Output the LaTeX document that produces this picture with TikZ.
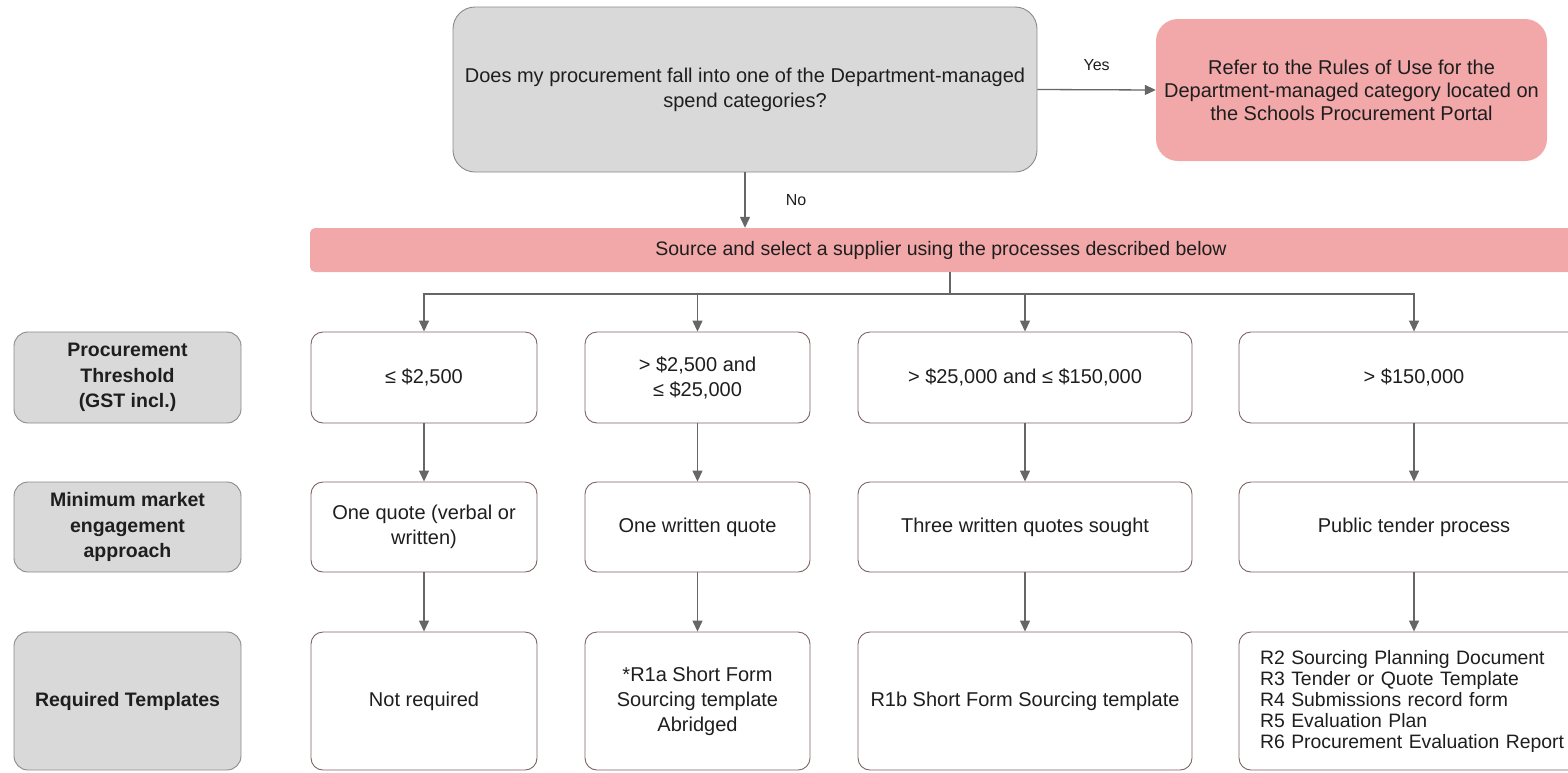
\documentclass[tikz,border=0pt]{standalone}
\usepackage{fontspec}
\setmainfont{Liberation Sans}
\usetikzlibrary{arrows.meta}
\definecolor{arrowgray}{HTML}{666666}
\definecolor{boxedge}{HTML}{7E6262}
\definecolor{grayfill}{HTML}{D9D9D9}
\definecolor{grayedge}{HTML}{8A8A8A}
\definecolor{pinkfill}{HTML}{F2A7A9}
\definecolor{txt}{HTML}{1E1E1E}
\tikzset{
  arr/.style={draw=arrowgray, line width=1.3pt, -{Triangle[length=11pt,width=10pt]}},
  ln/.style={draw=arrowgray, line width=1.3pt},
  wbox/.style={draw=boxedge, line width=0.9pt, fill=white, rounded corners=12pt,
    align=center, inner sep=0pt, text=txt, font=\fontsize{20}{25}\selectfont},
  lbox/.style={draw=grayedge, line width=0.9pt, fill=grayfill, rounded corners=14pt,
    align=center, inner sep=0pt, text=txt, minimum width=227pt,
    font=\fontsize{19.5}{25.5}\selectfont\bfseries},
  qbox/.style={draw=grayedge, line width=0.9pt, fill=grayfill, rounded corners=22pt,
    align=center, inner sep=0pt, text=txt, font=\fontsize{20}{25}\selectfont},
  pbox/.style={fill=pinkfill, rounded corners=22pt, align=center, inner sep=0pt,
    text=txt, font=\fontsize{20}{23}\selectfont},
  lab/.style={text=txt, inner sep=0pt, font=\fontsize{16}{18}\selectfont},
  r1/.style={minimum height=91pt},
  r2/.style={minimum height=90pt},
  r3/.style={minimum height=138pt},
}
\begin{document}
\begin{tikzpicture}[x=1pt,y=-1pt]
\useasboundingbox (0,0) rectangle (1568,772);
\clip (0,0) rectangle (1568,772);

% top decision
\node[qbox, minimum width=584pt, minimum height=165pt] (q) at (745,89.5)
  {Does my procurement fall into one of the Department-managed\\spend categories?};
\node[pbox, minimum width=391pt, minimum height=142pt] (ref) at (1351.5,90)
  {Refer to the Rules of Use for the\\Department-managed category located on\\the Schools Procurement Portal};
\node[pbox, rounded corners=5pt, minimum width=1262pt, minimum height=44pt,
  font=\fontsize{19.5}{23}\selectfont] (bar) at (941,250)
  {Source and select a supplier using the processes described below};

\draw[arr] (q.east) -- (ref.west) node[lab, pos=0.5, yshift=25pt] (yes) {Yes};
\draw[arr] (q.south) -- (q.south |- bar.north) node[lab, pos=0.5, xshift=51pt] (no) {No};

% row labels
\node[lbox, r1] (l1) at (127.5,377.5) {Procurement\\Threshold\\(GST incl.)};
\node[lbox, r2] (l2) at (127.5,527) {Minimum market\\engagement\\approach};
\node[lbox, r3] (l3) at (127.5,701) {Required Templates};

% row 1
\node[wbox, r1, minimum width=226pt] (t1) at (424,377.5) {≤ \$2,500};
\node[wbox, r1, minimum width=225pt] (t2) at (697.5,377.5) {> \$2,500 and\\≤ \$25,000};
\node[wbox, r1, minimum width=334pt] (t3) at (1025,377.5) {> \$25,000 and ≤ \$150,000};
\node[wbox, r1, minimum width=350pt] (t4) at (1414,377.5) {> \$150,000};

% row 2
\node[wbox, r2, minimum width=226pt] (m1) at (424,527) {One quote (verbal or\\written)};
\node[wbox, r2, minimum width=225pt] (m2) at (697.5,527) {One written quote};
\node[wbox, r2, minimum width=334pt] (m3) at (1025,527) {Three written quotes sought};
\node[wbox, r2, minimum width=350pt] (m4) at (1414,527) {Public tender process};

% row 3
\node[wbox, r3, minimum width=226pt] (b1) at (424,701) {Not required};
\node[wbox, r3, minimum width=225pt] (b2) at (697.5,701) {*R1a Short Form\\Sourcing template\\Abridged};
\node[wbox, r3, minimum width=334pt] (b3) at (1025,701) {R1b Short Form Sourcing template};
\node[wbox, r3, align=left, text width=330pt, inner xsep=21pt,
  font=\fontsize{19.4}{21}\selectfont] (b4) at (1425,701)
  {R2 Sourcing Planning Document\\R3 Tender or Quote Template\\R4 Submissions record form\\R5 Evaluation Plan\\R6 Procurement Evaluation Report};

% distribution
\coordinate (split) at (950,294);
\draw[ln] (bar.south -| split) -- (split);
\draw[arr] (split) -| (t1.north);
\draw[arr] (split) -| (t2.north);
\draw[arr] (split) -| (t3.north);
\draw[arr] (split) -| (t4.north);

% vertical chains
\draw[arr] (t1) -- (m1);
\draw[arr] (t2) -- (m2);
\draw[arr] (t3) -- (m3);
\draw[arr] (t4) -- (m4);
\draw[arr] (m1) -- (b1);
\draw[arr] (m2) -- (b2);
\draw[arr] (m3) -- (b3);
\draw[arr] (m4.south) -- (m4.south |- b4.north);
\end{tikzpicture}
\end{document}
